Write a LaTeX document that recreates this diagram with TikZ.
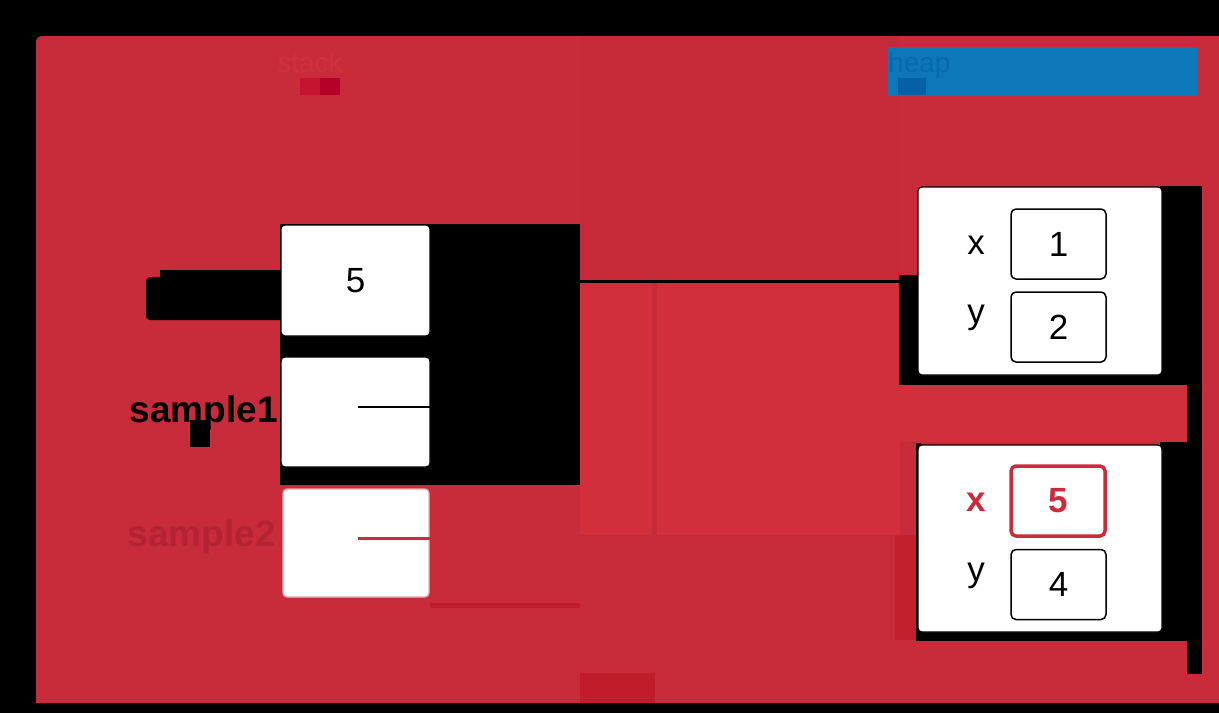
\documentclass[tikz,border=0pt]{standalone}
\usepackage{fontspec}
\setmainfont{Liberation Sans}
\definecolor{redA}{HTML}{C82B3A}
\definecolor{redB}{HTML}{D22F3D}
\definecolor{redC}{HTML}{C62937}
\definecolor{redD}{HTML}{C01C2B}
\definecolor{redE}{HTML}{B52333}
\definecolor{redF}{HTML}{D0303F}
\definecolor{redG}{HTML}{C4142F}
\definecolor{redH}{HTML}{B40028}
\definecolor{hiRed}{HTML}{CC2B3B}
\definecolor{blueA}{HTML}{0C78BA}
\definecolor{blueB}{HTML}{0A68AE}
\definecolor{blueC}{HTML}{0660A6}
\begin{document}
\begin{tikzpicture}[x=1pt,y=-1pt,
  txt/.style={font=\fontsize{35}{40}\selectfont, inner sep=0pt},
  lbl/.style={font=\fontsize{28}{32}\selectfont, inner sep=0pt},
  cell/.style={draw=black, line width=1.2pt, fill=white, rounded corners=4pt, inner sep=0pt},
  valbox/.style={draw=black, line width=1.5pt, fill=white, rounded corners=5pt, inner sep=0pt, minimum width=95pt, minimum height=70pt},
  objbox/.style={draw=black, line width=1.2pt, fill=white, rounded corners=4pt, inner sep=0pt, minimum width=244pt, minimum height=188pt},
  link/.style={line width=2.5pt}]
\useasboundingbox (0,0) rectangle (1219,713);
\fill[black] (0,0) rectangle (1219,713);
% main red panel
\fill[redA] (36,703) -- (36,300) [rounded corners=6pt] -- (36,36) -- (700,36) [sharp corners] -- (1219,36) -- (1219,703) -- cycle;
% right panel shades
\fill[redC] (580,36) rectangle (900,280);
\fill[redB] (580,283) rectangle (900,535);
\fill[redB] (900,383) rectangle (1187,442);
\fill[redC] (652,36) rectangle (657,535);
\fill[redD] (580,673) rectangle (655,703);
\fill[redD!70!redA] (895,535) rectangle (918,640);
% black areas
\fill[black] (280,224) rectangle (580,485);
\fill[black, rounded corners=4pt] (146,277) rectangle (290,320);
\fill[black] (160,270) rectangle (280,280);
\fill[black] (190,420) rectangle (210,447);
\fill[black] (1187,186) rectangle (1202,674);
\fill[black] (1160,186) rectangle (1187,385);
\fill[black] (899,275) rectangle (919,385);
\fill[black] (899,375) rectangle (1187,385);
\fill[black] (1160,442) rectangle (1187,641);
\fill[black] (916,443) rectangle (921,641);
\fill[black] (916,631) rectangle (1187,641);
\fill[redD] (430,603) rectangle (580,608);
% panel titles
\node[lbl, text=redF, anchor=base] (stack) at (310,72) {stack};
\fill[redG] (300,78) rectangle (320,95);
\fill[redH] (320,78) rectangle (340,95);
\fill[blueA] (888,47) rectangle (1198,96);
\node[lbl, text=blueB, anchor=base west] (heap) at (888,72) {heap};
\fill[blueC] (898,78) rectangle (926,95);
% stack cells
\node[cell, minimum width=149pt, minimum height=111pt, txt] (dbox) at (355.5,280.5) {5};
\node[cell, minimum width=149pt, minimum height=110pt] (s1box) at (355.5,412) {};
\node[cell, draw=redA!40, minimum width=146pt, minimum height=108pt] (s2box) at (356,543) {};
\node[txt, anchor=east, text=black] (dlbl) at (278,296) {d};
\node[txt, anchor=base east, text=black, font=\fontsize{37}{40}\selectfont\bfseries] (s1lbl) at (278,422) {sample1};
\node[txt, anchor=base east, text=redE, font=\fontsize{37}{40}\selectfont\bfseries] (s2lbl) at (276,546) {sample2};
% pointer starts
\coordinate (p1) at (358,407);
\coordinate (p2) at (358,538);
\draw[line width=1.5pt, black] (p1) -- (p1 -| s1box.east);
\draw[line width=3pt, hiRed] (p2) -- (p2 -| s2box.east);
% heap objects
\node[objbox] (h1) at (1040,281) {};
\node[objbox, minimum height=187pt] (h2) at (1040,538.5) {};
\node[valbox, txt] (v1) at (1058.5,244) {1};
\node[valbox, txt] (v2) at (1058.5,327) {2};
\node[valbox, draw=hiRed, line width=3.5pt, minimum width=94pt, text=hiRed, font=\fontsize{35}{40}\selectfont\bfseries] (v3) at (1058,501) {5};
\node[valbox, txt] (v4) at (1058.5,584.5) {4};
\node[txt, anchor=base] (hx1) at (976,254) {x};
\node[txt, anchor=base] (hy1) at (976,323) {y};
\node[txt, anchor=base, text=hiRed, font=\fontsize{35}{40}\selectfont\bfseries] (hx2) at (976,511) {x};
\node[txt, anchor=base] (hy2) at (976,581) {y};
% visible link segment
\coordinate (l1) at (580,281.5);
\draw[link, black] (l1) -- (l1 -| h1.west);
\end{tikzpicture}
\end{document}
